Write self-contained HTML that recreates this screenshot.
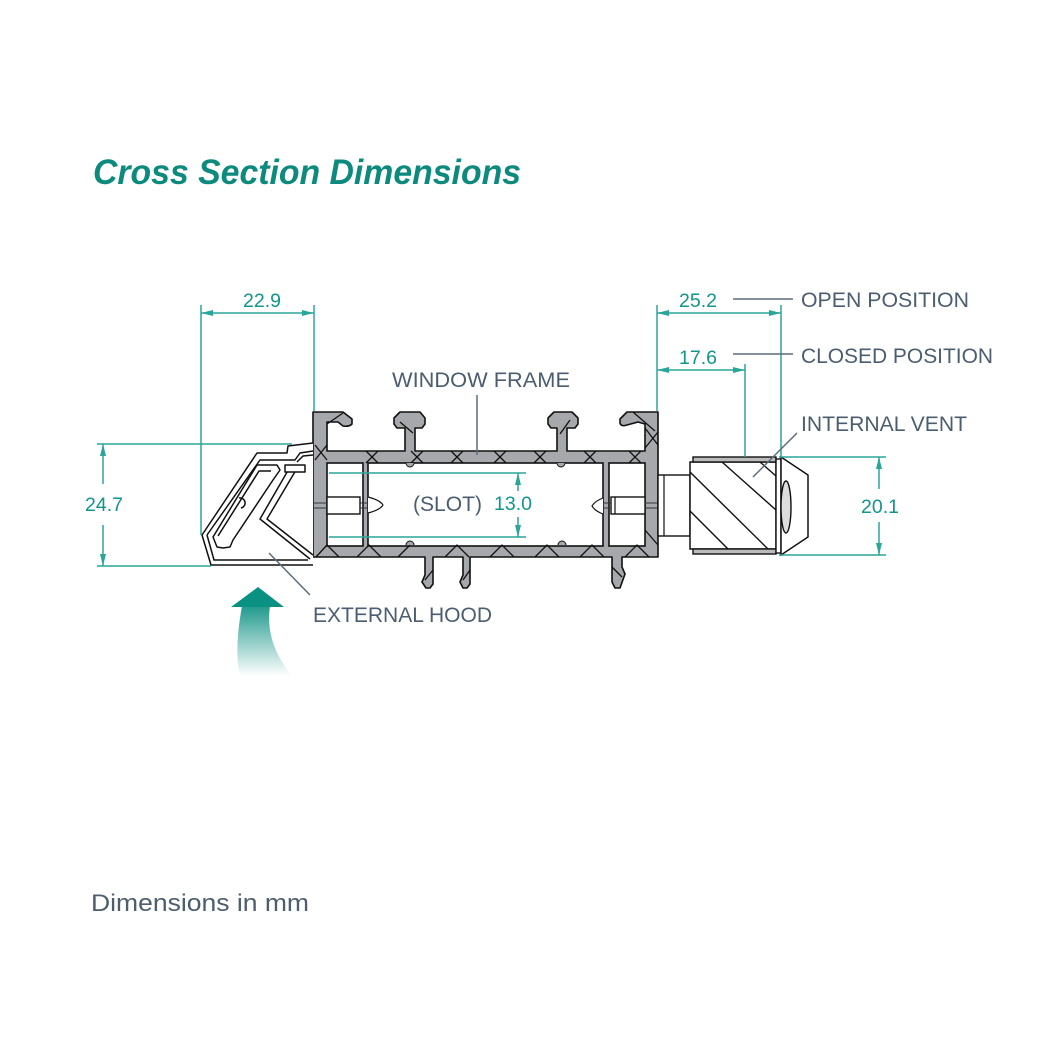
<!DOCTYPE html>
<html><head><meta charset="utf-8"><style>
html,body{margin:0;padding:0;background:#fff;}
svg{display:block;}
</style></head><body>
<svg width="1042" height="1042" viewBox="0 0 1042 1042" xmlns="http://www.w3.org/2000/svg">
<defs>
<linearGradient id="ag" x1="0" y1="587" x2="0" y2="676" gradientUnits="userSpaceOnUse">
<stop offset="0" stop-color="#0a9182"/>
<stop offset="0.25" stop-color="#2b9e92"/>
<stop offset="1" stop-color="#ffffff"/>
</linearGradient>
</defs>
<rect width="1042" height="1042" fill="#fff"/>

<!-- Title -->
<text x="93" y="184" font-family="Liberation Sans, sans-serif" font-size="35" font-weight="bold" font-style="italic" fill="#0b8a7d" textLength="428" lengthAdjust="spacingAndGlyphs">Cross Section Dimensions</text>

<!-- Footer -->
<text x="91" y="911" font-family="Liberation Sans, sans-serif" font-size="24" fill="#4b5d6e" textLength="218" lengthAdjust="spacingAndGlyphs">Dimensions in mm</text>

<!-- ===== Window frame ===== -->
<path fill="#a6a8ab" stroke="#111" stroke-width="1.6" stroke-linejoin="round" d="
M313,557 L313,412 L343,412 L352,419 L352,424 Q349,427 343,426 L338,422 L327,422 L327,451
L405,451 L405,428 L397,428 L394,424 L394,418 L400,412 L420,412 L425,418 L425,424 L422,428 L415,428 L415,451
L557,451 L557,428 L551,428 L548,424 L548,418 L554,412 L572,412 L578,418 L578,424 L575,428 L567,428 L567,451
L645,451 L645,424 L638,422 L627,425 Q621,427 620,423 L620,419 L627,412 L658,412 L658,557
L622,557 L622,567 L625,574 L620,588 L615,588 L612,582 L612,557
L470,557 L470,584 L467,588 L463,588 L460,582 L463,575 L463,557
L433,557 L433,584 L430,588 L426,588 L422,582 L425,575 L425,557 Z"/>

<!-- chambers -->
<rect x="327" y="463" width="36" height="83" fill="#fff" stroke="#111" stroke-width="1.6"/>
<rect x="368" y="463" width="235" height="83" fill="#fff" stroke="#111" stroke-width="1.6"/>
<rect x="609" y="463" width="36" height="83" fill="#fff" stroke="#111" stroke-width="1.6"/>
<!-- pegs -->
<rect x="327" y="497" width="33" height="17" fill="#fff" stroke="#111" stroke-width="1.4"/>
<rect x="611" y="497" width="34" height="17" fill="#fff" stroke="#111" stroke-width="1.4"/>
<line x1="615" y1="497" x2="615" y2="514" stroke="#111" stroke-width="1.2"/>
<!-- small wall slits -->
<g stroke="#333" stroke-width="1">
<line x1="313" y1="503" x2="327" y2="503"/><line x1="313" y1="508" x2="327" y2="508"/>
<line x1="360" y1="503" x2="368" y2="503"/><line x1="360" y1="508" x2="368" y2="508"/>
<line x1="603" y1="503" x2="611" y2="503"/><line x1="603" y1="508" x2="611" y2="508"/>
<line x1="645" y1="503" x2="658" y2="503"/><line x1="645" y1="508" x2="658" y2="508"/>
</g>
<!-- lens fins -->
<path d="M368,497 Q380,500 383,505 Q380,510 368,513" fill="#fff" stroke="#111" stroke-width="1.2"/>
<path d="M603,498 Q595,501 592,506 Q595,511 603,514" fill="#fff" stroke="#111" stroke-width="1.2"/>

<!-- X marks top wall -->
<g stroke="#111" stroke-width="1.3" fill="none">
<path d="M315,445 L327,460 M327,445 L315,460"/>
<path d="M366,451 L378,463 M378,451 L366,463"/>
<path d="M411,451 L423,463 M423,451 L411,463"/>
<path d="M451,451 L463,463 M463,451 L451,463"/>
<path d="M494,451 L506,463 M506,451 L494,463"/>
<path d="M534,451 L546,463 M546,451 L534,463"/>
<path d="M584,451 L596,463 M596,451 L584,463"/>
<path d="M629,451 L641,463 M641,451 L629,463"/>
<path d="M645,428 L658,445 M645,448 L658,432"/>
<path d="M343,413 L327,424"/>
<path d="M633,412 L655,431"/>
<path d="M400,422 L413,433"/>
<path d="M570,420 L560,434"/>
<!-- bottom wall Λ -->
<path d="M316,557 L327,545 L339,557"/>
<path d="M357,557 L369,545 L381,557"/>
<path d="M445,557 L457,545 L469,557"/>
<path d="M490,557 L502,545 L514,557"/>
<path d="M535,557 L547,545 L559,557"/>
<path d="M580,557 L592,545 L604,557"/>
<path d="M625,557 L637,545 L649,557"/>
<path d="M398,557 L410,545"/>
<path d="M433,570 L425,580"/>
<path d="M470,570 L463,580"/>
<path d="M612,567 L622,577"/>
<path d="M645,530 L658,545"/>
</g>
<!-- bumps -->
<g fill="#a6a8ab" stroke="#111" stroke-width="1">
<path d="M406,463 A4,4 0 0 0 414,463"/>
<path d="M557,463 A4,4 0 0 0 565,463"/>
<path d="M406,545 A4,4 0 0 1 414,545"/>
<path d="M558,545 A4,4 0 0 1 566,545"/>
</g>

<!-- ===== Internal vent ===== -->
<rect x="658" y="475" width="32" height="61" fill="#fff" stroke="#111" stroke-width="1.4"/>
<line x1="664" y1="475" x2="664" y2="536" stroke="#111" stroke-width="1.2"/>
<rect x="690" y="462" width="86" height="87" fill="#fff" stroke="#111" stroke-width="1.5"/>
<rect x="693" y="457" width="83" height="5" fill="#bbb" stroke="#111" stroke-width="1.4"/>
<rect x="693" y="549" width="83" height="5" fill="#bbb" stroke="#111" stroke-width="1.4"/>
<rect x="776" y="459" width="5" height="94" fill="#fff" stroke="#111" stroke-width="1.4"/>
<path d="M781,457 L808,475 L808,537 L781,555 Z" fill="#fff" stroke="#111" stroke-width="1.5"/>
<ellipse cx="786" cy="507" rx="5" ry="26" fill="#ddd" stroke="#111" stroke-width="1.4"/>
<g stroke="#111" stroke-width="1.4" fill="none">
<line x1="690" y1="472" x2="768" y2="549"/>
<line x1="722" y1="462" x2="776" y2="510"/>
<line x1="690" y1="511" x2="728" y2="549"/>
<line x1="760" y1="462" x2="776" y2="476"/>
</g>

<!-- ===== External hood ===== -->
<g fill="none" stroke="#111" stroke-width="1.5" stroke-linejoin="round">
<path d="M313,443 L288,446 L287,453 L257,453 L202,535 L211,565 L313,565" fill="#fff"/>
<path d="M207,535 L260,460 L295,460 L300,453 L313,451"/>
<path d="M207,535 L214,560 L308,560"/>
<path d="M213,537 L257,465 L277,465 L280,470 L273,480 L233,540 L230,547 L223,548 L217,547 Z"/>
<path d="M218,536 L259,471 L271,471"/>
<path d="M290,467 L260,519 L310,559"/>
<path d="M296,470 L267,519 L313,555"/>
<rect x="285" y="465" width="20" height="7" fill="#fff"/>
<path d="M297,462 L303,456 L313,455"/>
<path d="M239,498 A5,5 0 0 1 241,508"/>
</g>

<!-- ===== Dimension lines (teal) ===== -->
<g stroke="#2aa59a" stroke-width="1.5" fill="none">
<!-- 22.9 -->
<line x1="201" y1="305" x2="201" y2="535"/>
<line x1="314" y1="305" x2="314" y2="411"/>
<line x1="201" y1="313" x2="314" y2="313"/>
<!-- 24.7 -->
<line x1="97" y1="444" x2="292" y2="444"/>
<line x1="97" y1="566" x2="211" y2="566"/>
<line x1="103" y1="444" x2="103" y2="484"/>
<line x1="103" y1="525" x2="103" y2="566"/>
<!-- 25.2 / 17.6 -->
<line x1="657" y1="305" x2="657" y2="411"/>
<line x1="781" y1="305" x2="781" y2="457"/>
<line x1="657" y1="313" x2="781" y2="313"/>
<line x1="745" y1="364" x2="745" y2="457"/>
<line x1="657" y1="370" x2="745" y2="370"/>
<!-- 20.1 -->
<line x1="779" y1="457" x2="886" y2="457"/>
<line x1="779" y1="555" x2="886" y2="555"/>
<line x1="879" y1="457" x2="879" y2="489"/>
<line x1="879" y1="522" x2="879" y2="555"/>
<!-- 13.0 -->
<line x1="329" y1="473" x2="526" y2="473"/>
<line x1="329" y1="537" x2="526" y2="537"/>
<line x1="518" y1="473" x2="518" y2="491"/>
<line x1="518" y1="517" x2="518" y2="537"/>
</g>
<g fill="#2aa59a">
<path d="M201,313 L213,310 L213,316 Z"/>
<path d="M314,313 L302,310 L302,316 Z"/>
<path d="M103,444 L100,456 L106,456 Z"/>
<path d="M103,566 L100,554 L106,554 Z"/>
<path d="M657,313 L669,310 L669,316 Z"/>
<path d="M781,313 L769,310 L769,316 Z"/>
<path d="M657,370 L669,367 L669,373 Z"/>
<path d="M745,370 L733,367 L733,373 Z"/>
<path d="M879,457 L876,469 L882,469 Z"/>
<path d="M879,555 L876,543 L882,543 Z"/>
<path d="M518,473 L515,485 L521,485 Z"/>
<path d="M518,537 L515,525 L521,525 Z"/>
</g>
<g font-family="Liberation Sans, sans-serif" font-size="19.5" fill="#10968a" text-anchor="middle">
<text x="262" y="307">22.9</text>
<text x="698" y="307">25.2</text>
<text x="698" y="364">17.6</text>
<text x="104" y="511">24.7</text>
<text x="880" y="513">20.1</text>
<text x="513" y="510">13.0</text>
</g>

<!-- ===== Leaders ===== -->
<g stroke="#5b6b7a" stroke-width="1.5" fill="none">
<line x1="733" y1="299" x2="793" y2="299"/>
<line x1="733" y1="354" x2="793" y2="354"/>
<line x1="797" y1="433" x2="753" y2="477"/>
<line x1="477" y1="395" x2="477" y2="455"/>
<line x1="269" y1="553" x2="310" y2="595"/>
</g>

<!-- ===== Labels ===== -->
<g font-family="Liberation Sans, sans-serif" font-size="21.5" fill="#4b5d6e">
<text x="801" y="307" textLength="168" lengthAdjust="spacingAndGlyphs">OPEN POSITION</text>
<text x="801" y="363" textLength="192" lengthAdjust="spacingAndGlyphs">CLOSED POSITION</text>
<text x="801" y="431" textLength="166" lengthAdjust="spacingAndGlyphs">INTERNAL VENT</text>
<text x="392" y="387" textLength="178" lengthAdjust="spacingAndGlyphs">WINDOW FRAME</text>
<text x="313" y="622" textLength="179" lengthAdjust="spacingAndGlyphs">EXTERNAL HOOD</text>
<text x="413" y="511" textLength="69" lengthAdjust="spacingAndGlyphs">(SLOT)</text>
</g>

<!-- ===== Gradient arrow ===== -->
<path d="M242,606 C238,628 235,655 240,676 L292,676 C276,656 266,634 270,606 Z" fill="url(#ag)"/>
<path d="M231,607 L258,587 L284,607 Z" fill="#0a9182"/>
</svg>
</body></html>
